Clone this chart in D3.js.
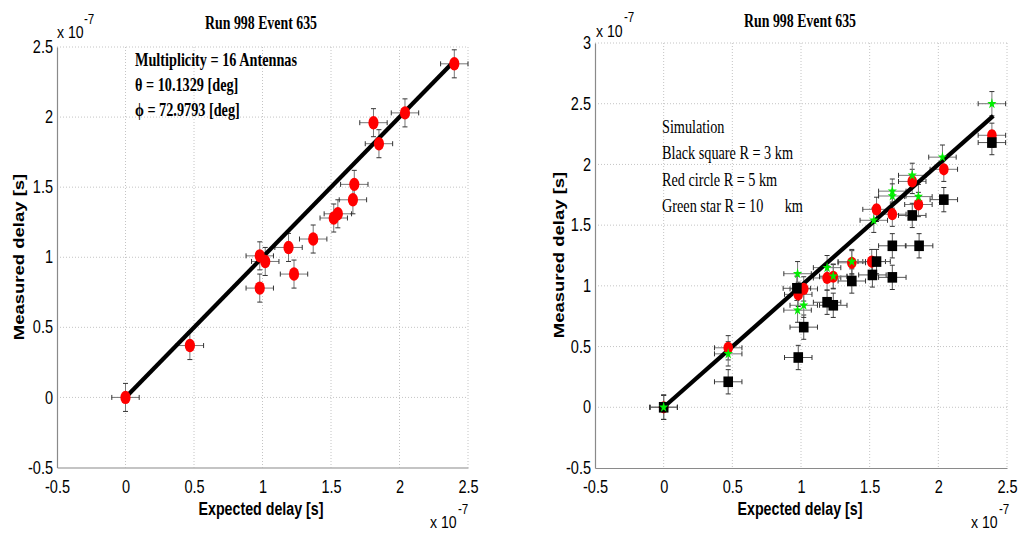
<!DOCTYPE html>
<html><head><meta charset="utf-8">
<script src="https://cdn.jsdelivr.net/npm/d3@7"></script>
<style>html,body{margin:0;padding:0;background:#fff;}svg{display:block;}</style>
</head><body>
<svg id="c" width="1018" height="534"></svg>
<script>
// ---------- data (units of 1e-7 s) ----------
const xTicks = [-0.5, 0, 0.5, 1, 1.5, 2, 2.5];
const yTicksLeft = [-0.5, 0, 0.5, 1, 1.5, 2, 2.5];
const yTicksRight = [-0.5, 0, 0.5, 1, 1.5, 2, 2.5, 3];
const errX = 0.1, errY = 0.1;
const fitLine = [0, 2.4];

const leftExpected = [0, 0.47, 0.98, 1.02, 0.98, 1.19, 1.23, 1.37, 1.52, 1.55, 1.66, 1.67, 1.81, 1.85, 2.04, 2.40];
const leftMeasured = [0, 0.37, 1.01, 0.97, 0.78, 1.07, 0.88, 1.13, 1.28, 1.31, 1.41, 1.52, 1.96, 1.81, 2.03, 2.38];

const sqX = [0, 0.47, 0.98, 1.02, 0.97, 1.19, 1.235, 1.37, 1.52, 1.55, 1.665, 1.665, 1.86, 1.81, 2.04, 2.39];
const sqY = [0, 0.21, 0.41, 0.66, 0.98, 0.865, 0.84, 1.04, 1.09, 1.20, 1.07, 1.33, 1.33, 1.58, 1.71, 2.18];
const circX = [0, 0.47, 0.98, 1.02, 1.19, 1.235, 1.37, 1.515, 1.55, 1.665, 1.81, 1.855, 2.04, 2.39];
const circY = [0, 0.49, 0.93, 0.975, 1.065, 1.075, 1.19, 1.20, 1.63, 1.59, 1.86, 1.67, 1.96, 2.24];
const starX = [0, 0.47, 0.975, 0.975, 1.02, 1.19, 1.235, 1.37, 1.53, 1.665, 1.665, 1.81, 1.855, 2.03, 2.39];
const starY = [0, 0.44, 1.10, 0.80, 0.84, 1.15, 1.08, 1.20, 1.54, 1.78, 1.74, 1.91, 1.735, 2.06, 2.50];

const titleText = "Run 998 Event 635";
const leftNotes = ["Multiplicity = 16 Antennas", "\u03b8 = 10.1329 [deg]", "\u03d5 = 72.9793 [deg]"];
const rightNotes = ["Simulation", "Black square R = 3 km", "Red circle R = 5 km", "Green star R = 10      km"];

// ---------- drawing ----------
const svg = d3.select("#c");
const K = 0.77; // horizontal text squeeze
const KT = 0.83; // squeeze for tick labels
const SANS = "'Liberation Sans', Arial, sans-serif";
const SERIF = "'Liberation Serif', 'Times New Roman', serif";
const fmt = d => String(d);

function txt(x, y, s, opts) {
  opts = opts || {};
  const k = opts.k || K;
  const t = svg.append("text")
    .attr("transform", `translate(${x},${y}) scale(${k},1)` + (opts.rot ? " rotate(-90)" : ""))
    .attr("font-family", opts.family || SANS)
    .attr("font-size", opts.size || 17)
    .attr("font-weight", opts.bold ? "bold" : "normal")
    .attr("text-anchor", opts.anchor || "start")
    .attr("fill", "#000")
    .style("white-space", "pre")
    .text(s);
  return t;
}

function panel(cfg) {
  const x = d3.scaleLinear().domain([-0.5, 2.5]).range([cfg.x0, cfg.x1]);
  const y = d3.scaleLinear().domain([cfg.yTicks[0], cfg.yTicks[cfg.yTicks.length - 1]]).range([cfg.y1, cfg.y0]);
  const g = svg.append("g");
  // grid
  g.selectAll(".gx").data(xTicks.slice(1)).join("line")
    .attr("x1", d => x(d)).attr("x2", d => x(d)).attr("y1", cfg.y0).attr("y2", cfg.y1)
    .attr("stroke", "#c4c4c4").attr("stroke-width", 1).attr("stroke-dasharray", "1,2");
  g.selectAll(".gy").data(cfg.yTicks.slice(1)).join("line")
    .attr("x1", cfg.x0).attr("x2", cfg.x1).attr("y1", d => y(d)).attr("y2", d => y(d))
    .attr("stroke", "#c4c4c4").attr("stroke-width", 1).attr("stroke-dasharray", "1,2");
  // axes
  const ax = g.append("g").attr("transform", `translate(0,${cfg.y1})`)
    .call(d3.axisBottom(x).tickValues(xTicks).tickFormat(fmt).tickSize(0).tickPadding(13));
  const ay = g.append("g").attr("transform", `translate(${cfg.x0},0)`)
    .call(d3.axisLeft(y).tickValues(cfg.yTicks).tickFormat(fmt).tickSize(0).tickPadding(5));
  [ax, ay].forEach(a => {
    a.select(".domain").attr("stroke", "#8a8a8a").attr("stroke-width", 1.2);
    a.selectAll("text").attr("font-family", SANS).attr("font-size", 17.5).attr("fill", "#000");
  });
  ax.selectAll("text").attr("transform", `scale(${KT},1)`);
  ay.selectAll("text").attr("x", -4 / KT).attr("transform", `scale(${KT},1)`);
  return {x, y, g};
}

function errorBars(p, xs, ys, color) {
  const g = p.g.append("g").attr("stroke", color).attr("stroke-width", 1).attr("fill", "none");
  const cap = 2.5;
  xs.forEach((xv, i) => {
    const cx = p.x(xv), cy = p.y(ys[i]);
    const xl = p.x(xv - errX), xr = p.x(xv + errX), yt = p.y(ys[i] + errY), yb = p.y(ys[i] - errY);
    g.append("line").attr("x1", xl).attr("x2", xr).attr("y1", cy).attr("y2", cy);
    g.append("line").attr("x1", cx).attr("x2", cx).attr("y1", yt).attr("y2", yb);
    g.append("line").attr("x1", xl).attr("x2", xl).attr("y1", cy - cap).attr("y2", cy + cap).attr("stroke", "#333");
    g.append("line").attr("x1", xr).attr("x2", xr).attr("y1", cy - cap).attr("y2", cy + cap).attr("stroke", "#333");
    g.append("line").attr("x1", cx - cap).attr("x2", cx + cap).attr("y1", yt).attr("y2", yt).attr("stroke", "#333");
    g.append("line").attr("x1", cx - cap).attr("x2", cx + cap).attr("y1", yb).attr("y2", yb).attr("stroke", "#333");
  });
}

function fit(p) {
  p.g.append("line")
    .attr("x1", p.x(fitLine[0])).attr("y1", p.y(fitLine[0]))
    .attr("x2", p.x(fitLine[1])).attr("y2", p.y(fitLine[1]))
    .attr("stroke", "#000").attr("stroke-width", 4.2);
}

// ---------- left panel ----------
const L = panel({x0: 57, x1: 468, y0: 47, y1: 467.5, yTicks: yTicksLeft});
errorBars(L, leftExpected, leftMeasured, "#777");
fit(L);
L.g.selectAll(".pt").data(leftExpected).join("ellipse")
  .attr("cx", d => L.x(d)).attr("cy", (d, i) => L.y(leftMeasured[i]))
  .attr("rx", 5.1).attr("ry", 6.7).attr("fill", "#ff0000");

txt(261, 29, titleText, {family: SERIF, bold: true, size: 18, anchor: "middle"});
leftNotes.forEach((s, i) => txt(135, 66 + i * 25, s, {family: SERIF, bold: true, size: 18.5}));
txt(57, 38, "x 10", {size: 17, k: KT});
txt(84, 24, "-7", {size: 14, k: KT});
txt(261, 515, "Expected delay [s]", {bold: true, size: 18.5, anchor: "middle"});
txt(24, 257, "Measured delay [s]", {bold: true, size: 18.5, anchor: "middle", rot: true});
txt(430, 528, "x 10", {size: 17, k: KT});
txt(458, 514, "-7", {size: 14, k: KT});

// ---------- right panel ----------
const R = panel({x0: 595, x1: 1007, y0: 43, y1: 468, yTicks: yTicksRight});
errorBars(R, circX, circY, "#777");
errorBars(R, sqX, sqY, "#555");
errorBars(R, starX, starY, "#777");
fit(R);
R.g.selectAll(".c").data(circX).join("ellipse")
  .attr("cx", d => R.x(d)).attr("cy", (d, i) => R.y(circY[i]))
  .attr("rx", 4.8).attr("ry", 6.1).attr("fill", "#ff0000");
R.g.selectAll(".s").data(sqX).join("rect")
  .attr("x", d => R.x(d) - 4.8).attr("y", (d, i) => R.y(sqY[i]) - 5.3)
  .attr("width", 9.6).attr("height", 10.6).attr("fill", "#000");
const star = d3.symbol().type(d3.symbolStar).size(36);
R.g.selectAll(".st").data(starX).join("path")
  .attr("d", star)
  .attr("transform", (d, i) => `translate(${R.x(d)},${R.y(starY[i])}) scale(0.85,1)`)
  .attr("fill", "#00ee00");

txt(800, 27, titleText, {family: SERIF, bold: true, size: 18, anchor: "middle"});
rightNotes.forEach((s, i) => txt(662, 133 + i * 26.3, s, {family: SERIF, size: 18.5}));
txt(596, 37, "x 10", {size: 17, k: KT});
txt(624, 22, "-7", {size: 14, k: KT});
txt(800, 515, "Expected delay [s]", {bold: true, size: 18.5, anchor: "middle"});
txt(564, 255, "Measured delay [s]", {bold: true, size: 18.5, anchor: "middle", rot: true});
txt(971, 528, "x 10", {size: 17, k: KT});
txt(999, 514, "-7", {size: 14, k: KT});
</script>
</body></html>
